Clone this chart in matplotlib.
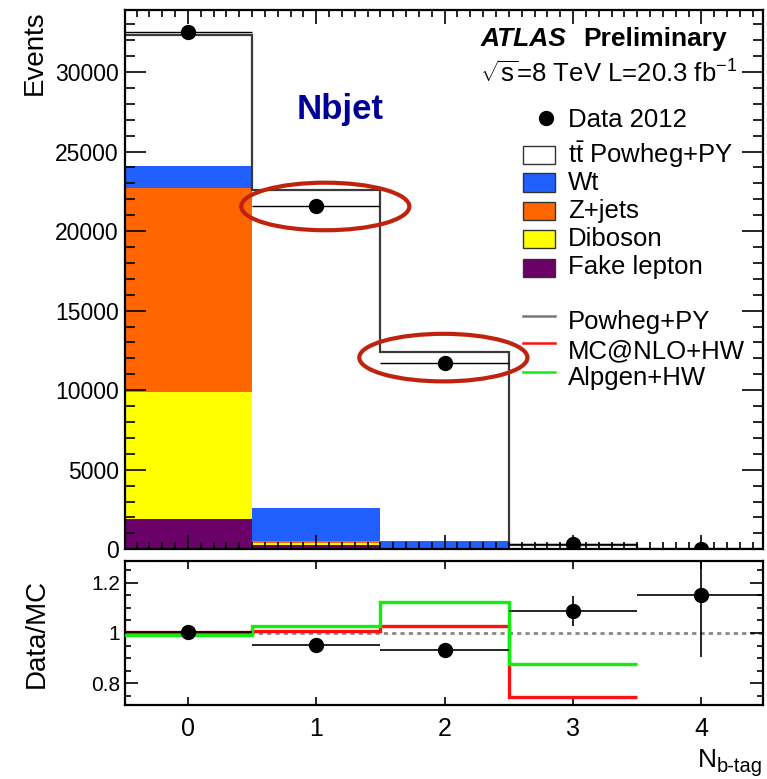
import numpy as np
import matplotlib
matplotlib.use("Agg")
import matplotlib.pyplot as plt
from matplotlib.patches import Rectangle, Ellipse
from matplotlib.lines import Line2D
from matplotlib.ticker import MultipleLocator, FixedLocator, FixedFormatter

plt.rcParams['font.family'] = ['Liberation Sans', 'DejaVu Sans']
plt.rcParams['mathtext.fontset'] = 'custom'
plt.rcParams['mathtext.rm'] = 'Liberation Sans'
plt.rcParams['mathtext.it'] = 'Liberation Sans:italic'
plt.rcParams['mathtext.bf'] = 'Liberation Sans:bold'

# ---- data: number of b-tagged jets ----
nbtag = [0, 1, 2, 3, 4]
tick_labels = ['0', '1', '2', '3', '4']

fake_lepton = [1890, 290, 50, 10, 1]
diboson = [7980, 125, 20, 3, 0]
zjets = [12830, 105, 20, 3, 0]
wt = [1420, 2075, 430, 40, 3]
ttbar = [8180, 20005, 11910, 244, 21]

data_2012 = [32520, 21550, 11700, 330, 30]

# data / MC ratio panel
ratio_data = [1.004, 0.951, 0.934, 1.087, 1.150]
ratio_err = [0.005, 0.006, 0.008, 0.060, 0.245]
ratio_mcnlo = [1.003, 1.008, 1.028, 0.743]
ratio_alpgen = [0.993, 1.029, 1.122, 0.878]

# ---- layout ----
W, H = 767, 779
DPI = 100
fig = plt.figure(figsize=(W / DPI, H / DPI), dpi=DPI)


def fx(x):
    return x / W


def fy(y):
    return 1 - y / H


def px2pt(p):
    return p * 72.0 / DPI


ax = fig.add_axes([fx(125), fy(549.3), fx(763) - fx(125), fy(10) - fy(549.3)])
rax = fig.add_axes([fx(125), fy(705), fx(763) - fx(125), fy(561) - fy(705)])

edges = np.arange(len(nbtag) + 1) - 0.5
xlo, xhi = -0.49, 4.48

# ---- stacked backgrounds ----
stack = [
    (fake_lepton, '#6a0068'),
    (diboson, '#ffff00'),
    (zjets, '#ff6600'),
    (wt, '#2160ff'),
    (ttbar, '#ffffff'),
]
bottom = np.zeros(len(nbtag))
for vals, col in stack:
    vals = np.asarray(vals, dtype=float)
    ax.stairs(bottom + vals, edges, baseline=bottom.copy(), fill=True,
              color=col, lw=0)
    bottom = bottom + vals
total = bottom

ax.stairs(total, edges, baseline=None, color='#3a3a3a', lw=1.6)

ax.errorbar(nbtag, data_2012, xerr=0.5, yerr=np.sqrt(data_2012), fmt='o',
            color='black', ms=10, lw=1.0, capsize=0, zorder=5)

# highlight ellipses around the 1- and 2-tag data points
ell_color = '#c0230d'
for b, dx, dy in [(1, 0.07, 0), (2, -0.01, 350)]:
    ax.add_patch(Ellipse((nbtag[b] + dx, data_2012[b] + dy), width=1.31,
                         height=2990, fill=False, ec=ell_color, lw=3.0,
                         zorder=6))

ax.set_xlim(xlo, xhi)
ax.set_ylim(0, 33900)
ax.yaxis.set_major_locator(MultipleLocator(5000))
ax.yaxis.set_minor_locator(MultipleLocator(1000))
ax.xaxis.set_major_locator(MultipleLocator(1))
ax.xaxis.set_minor_locator(MultipleLocator(0.1))
ax.tick_params(axis='both', which='both', direction='in', top=True,
               right=True, width=1.2, colors='black')
ax.tick_params(axis='y', which='major', length=px2pt(21), labelsize=16.5,
               pad=px2pt(6))
ax.tick_params(axis='y', which='minor', length=px2pt(10))
ax.tick_params(axis='x', which='major', length=px2pt(14), labelbottom=False)
ax.tick_params(axis='x', which='minor', length=px2pt(7))
for s in ax.spines.values():
    s.set_linewidth(1.6)

# ---- ratio panel ----
rax.axhline(1.0, color='#888888', lw=2.0, ls=(0, (1.5, 1.5)), zorder=1)
rax.stairs(ratio_mcnlo, edges[:len(ratio_mcnlo) + 1], baseline=None,
           color='#ff1010', lw=2.4, zorder=2)
rax.stairs(ratio_alpgen, edges[:len(ratio_alpgen) + 1], baseline=None,
           color='#10ee10', lw=2.4, zorder=3)
rax.errorbar(nbtag, ratio_data, xerr=0.5, yerr=ratio_err, fmt='o',
             color='black', ms=10, lw=1.2, capsize=0, zorder=5)

rax.set_xlim(xlo, xhi)
rax.set_ylim(0.713, 1.287)
rax.yaxis.set_major_locator(FixedLocator([0.8, 1.0, 1.2]))
rax.yaxis.set_major_formatter(FixedFormatter(['0.8', '1', '1.2']))
rax.yaxis.set_minor_locator(MultipleLocator(0.05))
rax.xaxis.set_major_locator(FixedLocator(nbtag))
rax.xaxis.set_major_formatter(FixedFormatter(tick_labels))
rax.tick_params(axis='both', which='both', direction='in', top=True,
                right=True, width=1.2, colors='black')
rax.tick_params(axis='y', which='major', length=px2pt(13), labelsize=15,
                pad=px2pt(5))
rax.tick_params(axis='y', which='minor', length=px2pt(6))
rax.tick_params(axis='x', which='major', length=px2pt(8), labelsize=18,
                pad=px2pt(12))
rax.tick_params(axis='x', which='minor', length=0)
for s in rax.spines.values():
    s.set_linewidth(1.6)

# ---- axis titles ----
fig.text(fx(35), fy(10), 'Events', rotation=90, ha='center', va='top',
         fontsize=20)
fig.text(fx(37), fy(633), 'Data/MC', rotation=90, ha='center',
         va='center', fontsize=20)
fig.text(fx(717), fy(766.7), 'N', ha='right', va='baseline', fontsize=19)
fig.text(fx(717), fy(772), 'b-tag', ha='left', va='baseline', fontsize=14.5)

# ---- labels ----
fig.text(fx(480.7), fy(39), 'ATLAS', ha='left', va='center', fontsize=19,
         fontweight='bold', fontstyle='italic')
fig.text(fx(583), fy(39), 'Preliminary', ha='left', va='center',
         fontsize=19, fontweight='bold')
fig.text(fx(480), fy(74), r'$\sqrt{\mathrm{s}}$=8 TeV L=20.3 fb$^{\mathrm{-1}}$',
         ha='left', va='center', fontsize=18.5)
fig.text(fx(296.7), fy(110), 'Nbjet', ha='left', va='center', fontsize=25,
         fontweight='bold', color='#000099')

# ---- legend ----
leg_fs = 18.5
text_x = fx(568)
fig.add_artist(Line2D([fx(546)], [fy(118.3)], marker='o', ms=10,
                      color='black', transform=fig.transFigure))
fig.text(text_x, fy(120), 'Data 2012', ha='left', va='center', fontsize=leg_fs)

box_entries = [
    (r'$\mathrm{t\bar{t}}$ Powheg+PY', '#ffffff', 154.5),
    ('Wt', '#2160ff', 182.5),
    ('Z+jets', '#ff6600', 211),
    ('Diboson', '#ffff00', 239),
    ('Fake lepton', '#6a0068', 267.5),
]
for label, col, yc in box_entries:
    fig.add_artist(Rectangle((fx(523), fy(yc + 9)), fx(555) - fx(523),
                             fy(yc - 9) - fy(yc + 9), fc=col, ec='#333333',
                             lw=1.0, transform=fig.transFigure))
    fig.text(text_x, fy(yc), label, ha='left', va='center', fontsize=leg_fs)

line_entries = [
    ('Powheg+PY', '#777777', 315.7, 322),
    ('MC@NLO+HW', '#ff1010', 343, 351),
    ('Alpgen+HW', '#10ee10', 372, 378),
]
for label, col, yl, yt in line_entries:
    fig.add_artist(Line2D([fx(523), fx(555)], [fy(yl), fy(yl)], color=col,
                          lw=1.8, transform=fig.transFigure))
    fig.text(text_x, fy(yt), label, ha='left', va='center', fontsize=leg_fs)

fig.savefig('out.png', dpi=DPI)
